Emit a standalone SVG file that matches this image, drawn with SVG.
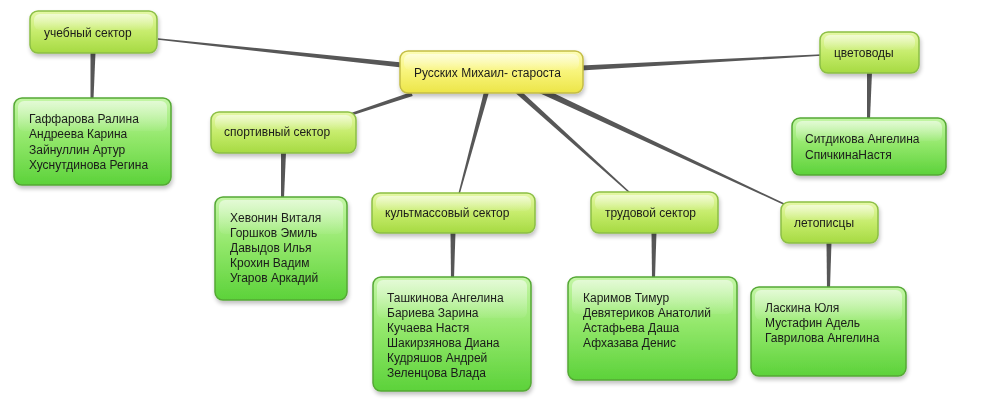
<svg xmlns="http://www.w3.org/2000/svg" width="1006" height="400" viewBox="0 0 1006 400">
  <defs>
    <linearGradient id="gCenter" x1="0" y1="0" x2="0" y2="1">
      <stop offset="0" stop-color="#fdfdb8"/>
      <stop offset="0.5" stop-color="#f8f47a"/>
      <stop offset="1" stop-color="#ece548"/>
    </linearGradient>
    <linearGradient id="gSector" x1="0" y1="0" x2="0" y2="1">
      <stop offset="0" stop-color="#e6f8a8"/>
      <stop offset="0.5" stop-color="#c6ec6c"/>
      <stop offset="1" stop-color="#a6da42"/>
    </linearGradient>
    <linearGradient id="gLeaf" x1="0" y1="0" x2="0" y2="1">
      <stop offset="0" stop-color="#c4f6a6"/>
      <stop offset="0.45" stop-color="#94e86c"/>
      <stop offset="1" stop-color="#5cd23a"/>
    </linearGradient>
    <linearGradient id="gShine" x1="0" y1="0" x2="0" y2="1">
      <stop offset="0" stop-color="#ffffff" stop-opacity="0.55"/>
      <stop offset="1" stop-color="#ffffff" stop-opacity="0.05"/>
    </linearGradient>
    <filter id="shadow" x="-10%" y="-10%" width="125%" height="135%">
      <feGaussianBlur in="SourceAlpha" stdDeviation="2"/>
      <feOffset dx="1" dy="3" result="b"/>
      <feComponentTransfer><feFuncA type="linear" slope="0.25"/></feComponentTransfer>
      <feMerge><feMergeNode/><feMergeNode in="SourceGraphic"/></feMerge>
    </filter>
  </defs>
  <style>
    .t { font-family: "Liberation Sans", Arial, sans-serif; font-size: 12px; fill: #1a1a1a; }
    .center { fill: url(#gCenter); stroke: #c4bd45; stroke-width: 1.5; }
    .sector { fill: url(#gSector); stroke: #8cbf45; stroke-width: 1.5; }
    .leaf { fill: url(#gLeaf); stroke: #55a834; stroke-width: 1.5; }
    .shine { fill: url(#gShine); }
    .conn { fill: #575757; stroke: none; }
  </style>
  <rect width="1006" height="400" fill="#ffffff"/>

  <g id="connectors">
    <path class="conn" d="M157.9,39.7 L401.7,67.5 L402.3,62.5 L158.1,38.3 Z"/>
    <path class="conn" d="M352.4,115.2 L412.7,96.1 L411.3,91.9 L351.6,112.8 Z"/>
    <path class="conn" d="M459.7,194.2 L489.4,90.7 L484.6,89.4 L458.3,193.8 Z"/>
    <path class="conn" d="M630.5,192.4 L517.7,88.1 L514.3,91.9 L629.5,193.6 Z"/>
    <path class="conn" d="M786.3,204.3 L541.3,87.3 L538.7,92.7 L785.7,205.7 Z"/>
    <path class="conn" d="M822,54.2 L580.9,65.5 L581.1,70.5 L822,55.8 Z"/>
    <path class="conn" d="M90.5,52 L95.5,52 L93.5,99 L90.5,99 Z"/>
    <path class="conn" d="M281,152 L286,152 L284,198 L281,198 Z"/>
    <path class="conn" d="M867,72 L872,72 L870,119 L867,119 Z"/>
    <path class="conn" d="M450.5,232 L455.5,232 L454,278 L451,278 Z"/>
    <path class="conn" d="M651.5,232 L656.5,232 L655,278 L652,278 Z"/>
    <path class="conn" d="M826.5,242 L831.5,242 L830,288 L827,288 Z"/>
  </g>

  <g id="n-center" filter="url(#shadow)">
    <rect class="center" x="400" y="51" width="183" height="42" rx="8"/>
    <rect class="shine" x="404" y="54" width="175" height="16" rx="6"/>
    <text class="t" x="414" y="77">Русских Михаил- староста</text>
  </g>

  <g id="n-ucheb" filter="url(#shadow)">
    <rect class="sector" x="30" y="11" width="127" height="42" rx="8"/>
    <rect class="shine" x="34" y="14" width="119" height="16" rx="6"/>
    <text class="t" x="44" y="37">учебный сектор</text>
  </g>
  <g id="l-ucheb" filter="url(#shadow)">
    <rect class="leaf" x="14" y="98" width="157" height="87" rx="8"/>
    <rect class="shine" x="18" y="101" width="149" height="30" rx="6"/>
    <text class="t" x="29" y="123">Гаффарова Ралина</text>
    <text class="t" x="29" y="138">Андреева Карина</text>
    <text class="t" x="29" y="154">Зайнуллин Артур</text>
    <text class="t" x="29" y="169">Хуснутдинова Регина</text>
  </g>

  <g id="n-sport" filter="url(#shadow)">
    <rect class="sector" x="211" y="112" width="145" height="41" rx="8"/>
    <rect class="shine" x="215" y="115" width="137" height="15" rx="6"/>
    <text class="t" x="224" y="136">спортивный сектор</text>
  </g>
  <g id="l-sport" filter="url(#shadow)">
    <rect class="leaf" x="215" y="197" width="132" height="103" rx="8"/>
    <rect class="shine" x="219" y="200" width="124" height="34" rx="6"/>
    <text class="t" x="230" y="222">Хевонин Виталя</text>
    <text class="t" x="230" y="237">Горшков Эмиль</text>
    <text class="t" x="230" y="252">Давыдов Илья</text>
    <text class="t" x="230" y="267">Крохин Вадим</text>
    <text class="t" x="230" y="282">Угаров Аркадий</text>
  </g>

  <g id="n-kult" filter="url(#shadow)">
    <rect class="sector" x="372" y="193" width="163" height="40" rx="8"/>
    <rect class="shine" x="376" y="196" width="155" height="15" rx="6"/>
    <text class="t" x="385" y="217">культмассовый сектор</text>
  </g>
  <g id="l-kult" filter="url(#shadow)">
    <rect class="leaf" x="373" y="277" width="158" height="114" rx="8"/>
    <rect class="shine" x="377" y="280" width="150" height="38" rx="6"/>
    <text class="t" x="387" y="302">Ташкинова Ангелина</text>
    <text class="t" x="387" y="317">Бариева Зарина</text>
    <text class="t" x="387" y="332">Кучаева Настя</text>
    <text class="t" x="387" y="347">Шакирзянова Диана</text>
    <text class="t" x="387" y="362">Кудряшов Андрей</text>
    <text class="t" x="387" y="377">Зеленцова Влада</text>
  </g>

  <g id="n-trud" filter="url(#shadow)">
    <rect class="sector" x="591" y="192" width="127" height="41" rx="8"/>
    <rect class="shine" x="595" y="195" width="119" height="15" rx="6"/>
    <text class="t" x="605" y="217">трудовой сектор</text>
  </g>
  <g id="l-trud" filter="url(#shadow)">
    <rect class="leaf" x="568" y="277" width="169" height="103" rx="8"/>
    <rect class="shine" x="572" y="280" width="161" height="34" rx="6"/>
    <text class="t" x="583" y="302">Каримов Тимур</text>
    <text class="t" x="583" y="317">Девятериков Анатолий</text>
    <text class="t" x="583" y="332">Астафьева Даша</text>
    <text class="t" x="583" y="347">Афхазава Денис</text>
  </g>

  <g id="n-leto" filter="url(#shadow)">
    <rect class="sector" x="781" y="202" width="97" height="41" rx="8"/>
    <rect class="shine" x="785" y="205" width="89" height="15" rx="6"/>
    <text class="t" x="794" y="227">летописцы</text>
  </g>
  <g id="l-leto" filter="url(#shadow)">
    <rect class="leaf" x="751" y="287" width="155" height="89" rx="8"/>
    <rect class="shine" x="755" y="290" width="147" height="30" rx="6"/>
    <text class="t" x="765" y="312">Ласкина Юля</text>
    <text class="t" x="765" y="327">Мустафин Адель</text>
    <text class="t" x="765" y="342">Гаврилова Ангелина</text>
  </g>

  <g id="n-cvet" filter="url(#shadow)">
    <rect class="sector" x="820" y="32" width="99" height="41" rx="8"/>
    <rect class="shine" x="824" y="35" width="91" height="15" rx="6"/>
    <text class="t" x="834" y="57">цветоводы</text>
  </g>
  <g id="l-cvet" filter="url(#shadow)">
    <rect class="leaf" x="792" y="118" width="154" height="57" rx="8"/>
    <rect class="shine" x="796" y="121" width="146" height="20" rx="6"/>
    <text class="t" x="805" y="143">Ситдикова Ангелина</text>
    <text class="t" x="805" y="159">СпичкинаНастя</text>
  </g>
</svg>
